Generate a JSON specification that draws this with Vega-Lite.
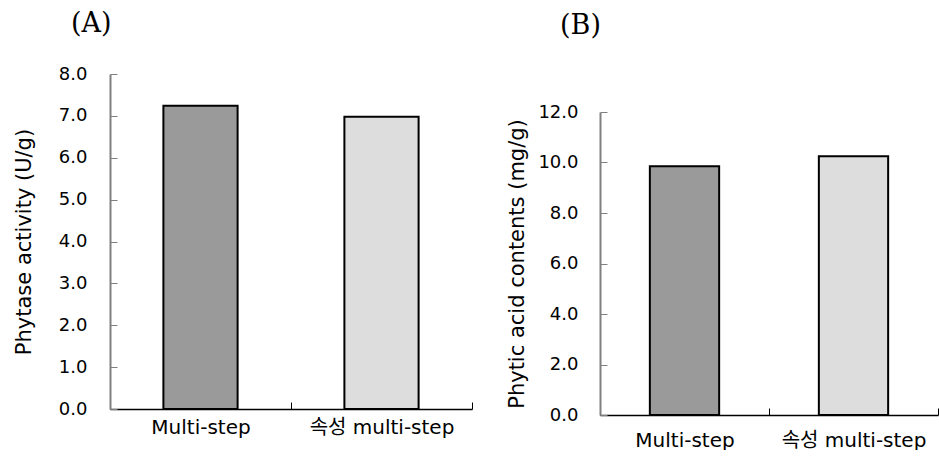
{
  "$schema": "https://vega.github.io/schema/vega-lite/v6.json",
  "padding": {"left": 13, "top": 10, "right": 0, "bottom": 0},
  "spacing": 33,
  "config": {
    "view": {"stroke": null},
    "font": "DejaVu Sans, Noto Sans CJK KR",
    "axis": {
      "labelFont": "DejaVu Sans, Noto Sans CJK KR",
      "labelFontSize": 18,
      "labelColor": "black",
      "titleFont": "DejaVu Sans, Noto Sans CJK KR",
      "titleFontSize": 21,
      "titleFontWeight": "normal",
      "titleColor": "black",
      "grid": false
    },
    "title": {"font": "DejaVu Serif", "fontSize": 27, "fontWeight": "normal", "color": "black", "anchor": "start", "frame": "group"}
  },
  "hconcat": [
    {
      "title": {"text": "(A)", "dx": -39, "offset": 27},
      "width": 362,
      "height": 335,
      "data": {"values": [
        {"method": "Multi-step", "value": 7.24},
        {"method": "속성 multi-step", "value": 6.98}
      ]},
      "mark": {"type": "bar", "width": {"band": 0.41}, "stroke": "black", "strokeWidth": 2},
      "encoding": {
        "x": {"field": "method", "type": "nominal", "sort": null,
          "scale": {"paddingInner": 0, "paddingOuter": 0},
          "axis": {"title": null, "labelAngle": 0, "labelFontSize": 20, "tickBand": "extent", "tickSize": -7, "domainColor": "black", "tickColor": "black", "domainWidth": 1.5, "labelPadding": 15}},
        "y": {"field": "value", "type": "quantitative",
          "scale": {"domain": [0, 8]},
          "axis": {"values": [0, 1, 2, 3, 4, 5, 6, 7, 8], "format": ".1f", "title": "Phytase activity (U/g)", "tickSize": -7, "domainColor": "#808080", "tickColor": "#808080", "domainWidth": 2, "labelPadding": 30, "titlePadding": 24}},
        "fill": {"field": "method", "type": "nominal", "sort": null,
          "scale": {"range": ["#9a9a9a", "#dddddd"]}, "legend": null}
      }
    },
    {
      "spacing": 28,
      "vconcat": [
        {
          "title": {"text": "(B)", "dx": -40, "offset": 34},
          "width": 338,
          "height": 1,
          "data": {"values": []},
          "mark": "point"
        },
        {
          "width": 338,
          "height": 303,
          "data": {"values": [
            {"method": "Multi-step", "value": 9.85},
            {"method": "속성 multi-step", "value": 10.25}
          ]},
          "mark": {"type": "bar", "width": {"band": 0.41}, "stroke": "black", "strokeWidth": 2},
          "encoding": {
            "x": {"field": "method", "type": "nominal", "sort": null,
              "scale": {"paddingInner": 0, "paddingOuter": 0},
              "axis": {"title": null, "labelAngle": 0, "labelFontSize": 20, "tickBand": "extent", "tickSize": -7, "domainColor": "black", "tickColor": "black", "domainWidth": 1.5, "labelPadding": 22}},
            "y": {"field": "value", "type": "quantitative",
              "scale": {"domain": [0, 12]},
              "axis": {"values": [0, 2, 4, 6, 8, 10, 12], "format": ".1f", "title": "Phytic acid contents (mg/g)", "tickSize": -7, "domainColor": "#808080", "tickColor": "#808080", "domainWidth": 2, "labelPadding": 29, "titlePadding": 10}},
            "fill": {"field": "method", "type": "nominal", "sort": null,
              "scale": {"range": ["#9a9a9a", "#dddddd"]}, "legend": null}
          }
        }
      ]
    }
  ]
}
